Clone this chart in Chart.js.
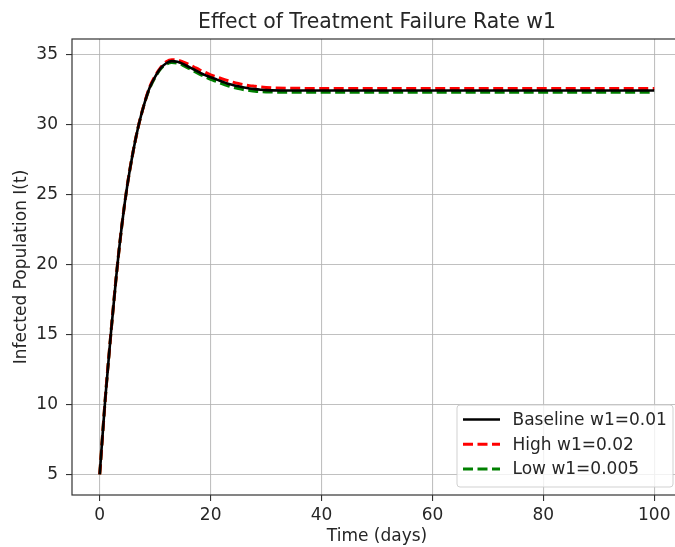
<!DOCTYPE html>
<html>
<head>
<meta charset="utf-8">
<script src="https://cdn.jsdelivr.net/npm/chart.js@4/dist/chart.umd.min.js"></script>
<style>
  html, body { margin: 0; padding: 0; background: #fff; overflow: hidden; }
  #wrap { width: 690px; height: 547px; }
</style>
</head>
<body>
<div id="wrap"><canvas id="c" width="690" height="547"></canvas></div>
<script>
// ---- data ----
const timeDays = [0,1,2,3,4,5,6,7,8,9,10,11,12,13,14,15,16,17,18,19,20,21,22,23,24,25,26,27,28,29,30,35,40,50,60,70,80,90,100];
const baseline = [5,10.4,15.0,19.2,22.8,25.7,28.0,29.9,31.4,32.6,33.4,34.0,34.35,34.5,34.45,34.3,34.1,33.9,33.7,33.5,33.35,33.2,33.05,32.9,32.8,32.7,32.62,32.55,32.5,32.46,32.43,32.4,32.4,32.4,32.4,32.4,32.4,32.4,32.4];
const highW1   = [5,10.4,15.0,19.2,22.8,25.7,28.0,29.9,31.4,32.65,33.45,34.05,34.45,34.6,34.58,34.45,34.28,34.08,33.88,33.7,33.52,33.38,33.24,33.12,33.0,32.9,32.82,32.75,32.7,32.65,32.62,32.56,32.55,32.55,32.55,32.55,32.55,32.55,32.55];
const lowW1    = [5,10.4,15.0,19.2,22.8,25.7,28.0,29.9,31.4,32.55,33.35,33.95,34.28,34.4,34.35,34.2,34.0,33.78,33.57,33.38,33.2,33.05,32.9,32.76,32.64,32.54,32.46,32.4,32.35,32.32,32.3,32.28,32.28,32.28,32.28,32.28,32.28,32.28,32.28];
const seriesLabels = ['Baseline w1=0.01', 'High w1=0.02', 'Low w1=0.005'];
const xTicks = [0,20,40,60,80,100];
const yTicks = [5,10,15,20,25,30,35];
const titleText = 'Effect of Treatment Failure Rate w1';
const xTitle = 'Time (days)';
const yTitle = 'Infected Population I(t)';

const FONT = "'DejaVu Sans', sans-serif";
const TXT = '#262626';

function pts(vals) { return timeDays.map((t, i) => ({ x: t, y: vals[i] })); }

const frameLegendTitle = {
  id: 'frameLegendTitle',
  afterDatasetsDraw(chart) {
    const ctx = chart.ctx, a = chart.chartArea;
    ctx.save();
    // axes title, centred over the plot area (matplotlib style)
    ctx.fillStyle = TXT;
    ctx.font = '20.4px ' + FONT;
    ctx.textAlign = 'center';
    ctx.textBaseline = 'middle';
    ctx.fillText(titleText, (a.left + a.right) / 2, 22.5);

    // spines
    ctx.strokeStyle = '#333';
    ctx.lineWidth = 1.2;
    ctx.setLineDash([]);
    ctx.strokeRect(a.left, a.top, a.right - a.left, a.bottom - a.top);

    // legend
    const bx = 457, by = 405, bw = 216, bh = 82, r = 3;
    ctx.beginPath();
    ctx.moveTo(bx + r, by);
    ctx.lineTo(bx + bw - r, by); ctx.quadraticCurveTo(bx + bw, by, bx + bw, by + r);
    ctx.lineTo(bx + bw, by + bh - r); ctx.quadraticCurveTo(bx + bw, by + bh, bx + bw - r, by + bh);
    ctx.lineTo(bx + r, by + bh); ctx.quadraticCurveTo(bx, by + bh, bx, by + bh - r);
    ctx.lineTo(bx, by + r); ctx.quadraticCurveTo(bx, by, bx + r, by);
    ctx.closePath();
    ctx.fillStyle = 'rgba(255,255,255,0.8)';
    ctx.fill();
    ctx.strokeStyle = 'rgba(204,204,204,0.9)';
    ctx.lineWidth = 1;
    ctx.stroke();

    chart.data.datasets.forEach((ds, i) => {
      const y = 419.5 + i * 24.7;
      ctx.beginPath();
      ctx.strokeStyle = ds.borderColor;
      ctx.lineWidth = ds.borderWidth;
      ctx.setLineDash(ds.borderDash || []);
      ctx.moveTo(463, y); ctx.lineTo(500, y);
      ctx.stroke();
      ctx.setLineDash([]);
      ctx.fillStyle = TXT;
      ctx.font = '17px ' + FONT;
      ctx.textBaseline = 'middle';
      ctx.textAlign = 'left';
      ctx.fillText(ds.label, 512.5, y + 1);
    });
    ctx.restore();
  }
};

new Chart(document.getElementById('c'), {
  type: 'line',
  data: {
    datasets: [
      { label: seriesLabels[0], data: pts(baseline), borderColor: '#000000', borderWidth: 2.6, pointRadius: 0, cubicInterpolationMode: 'monotone', fill: false },
      { label: seriesLabels[1], data: pts(highW1), borderColor: '#ff0000', borderWidth: 3, borderDash: [10, 4.5], pointRadius: 0, cubicInterpolationMode: 'monotone', fill: false },
      { label: seriesLabels[2], data: pts(lowW1), borderColor: '#008000', borderWidth: 3, borderDash: [10, 4.5], pointRadius: 0, cubicInterpolationMode: 'monotone', fill: false }
    ]
  },
  options: {
    responsive: false,
    animation: false,
    devicePixelRatio: 1,
    layout: { padding: { left: 0, right: 8, top: 39, bottom: 0 } },
    plugins: {
      legend: { display: false },
      tooltip: { enabled: false },
      title: { display: false }
    },
    scales: {
      x: {
        type: 'linear', min: -5, max: 105,
        afterFit(s) { s.height = 52; },
        afterBuildTicks(s) { s.ticks = xTicks.map(v => ({ value: v })); },
        grid: { color: 'rgba(176,176,176,0.8)', lineWidth: 1.1, tickLength: 6, tickColor: '#333', drawTicks: true },
        border: { display: false },
        ticks: { color: TXT, font: { family: FONT, size: 17 }, padding: 4, maxRotation: 0, autoSkip: false },
        title: { display: true, text: xTitle, color: TXT, font: { family: FONT, size: 17 }, padding: { top: 0, bottom: 0 } }
      },
      y: {
        type: 'linear', min: 3.52, max: 36.08,
        afterFit(s) { s.width = 72; },
        afterBuildTicks(s) { s.ticks = yTicks.map(v => ({ value: v })); },
        grid: { color: 'rgba(176,176,176,0.8)', lineWidth: 1.1, tickLength: 6, tickColor: '#333', drawTicks: true },
        border: { display: false },
        ticks: { color: TXT, font: { family: FONT, size: 17 }, padding: 8, autoSkip: false },
        title: { display: true, text: yTitle, color: TXT, font: { family: FONT, size: 17 }, padding: { top: 11, bottom: 0 } }
      }
    }
  },
  plugins: [frameLegendTitle]
});
</script>
</body>
</html>
